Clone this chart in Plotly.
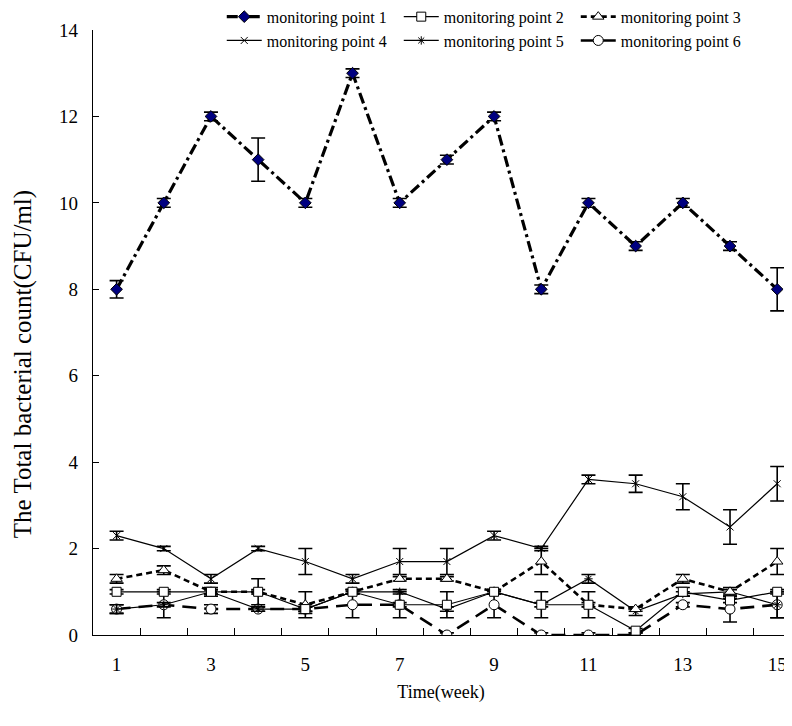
import plotly.graph_objects as go

weeks = list(range(1, 16))
names = ["monitoring point 1", "monitoring point 2", "monitoring point 3",
         "monitoring point 4", "monitoring point 5", "monitoring point 6"]

p1 = [8, 10, 12, 11, 10, 13, 10, 11, 12, 8, 10, 9, 10, 9, 8]
p1_err = [0.2, 0.1, 0.1, 0.5, 0.1, 0.1, 0.1, 0.1, 0.1, 0.1, 0.1, 0.1, 0.1, 0.1, 0.5]

p2 = [1.0, 1.0, 1.0, 1.0, 0.6, 1.0, 0.7, 0.7, 1.0, 0.7, 0.7, 0.1, 1.0, 0.8, 1.0]
p2_err = [0.05, 0.05, 0.05, 0.05, 0.05, 0.05, 0.05, 0.3, 0.05, 0.05, 0.05, 0.05, 0.1, 0.05, 0.05]

p3 = [1.3, 1.5, 1.0, 1.0, 0.7, 1.0, 1.3, 1.3, 1.0, 1.7, 0.7, 0.6, 1.3, 1.0, 1.7]
p3_err = [0.1, 0.1, 0.05, 0.3, 0.3, 0.05, 0.05, 0.05, 0.05, 0.3, 0.3, 0.05, 0.1, 0.05, 0.3]

p4 = [2.3, 2.0, 1.3, 2.0, 1.7, 1.3, 1.7, 1.7, 2.3, 2.0, 3.6, 3.5, 3.2, 2.5, 3.5]
p4_err = [0.1, 0.05, 0.1, 0.05, 0.3, 0.1, 0.3, 0.3, 0.1, 0.05, 0.1, 0.2, 0.3, 0.4, 0.4]

p5 = [0.6, 0.7, 1.0, 0.6, 0.6, 1.0, 1.0, 0.6, 1.0, 0.7, 1.3, 0.55, 0.95, 1.0, 0.7]
p5_err = [0.1, 0.05, 0.1, 0.05, 0.05, 0.05, 0.05, 0.05, 0.05, 0.3, 0.1, 0.1, 0.05, 0.1, 0.3]

p6 = [0.6, 0.7, 0.6, 0.6, 0.6, 0.7, 0.7, 0.0, 0.7, 0.0, 0.0, 0.0, 0.7, 0.6, 0.7]
p6_err = [0.1, 0.3, 0.1, 0.05, 0.1, 0.3, 0.3, 0.05, 0.3, 0.05, 0.05, 0.05, 0.05, 0.3, 0.3]

x_tick_labels = ["1", "3", "5", "7", "9", "11", "13", "15"]
x_tick_vals = [1, 3, 5, 7, 9, 11, 13, 15]
y_title = "The Total bacterial count(CFU/ml)"
x_title = "Time(week)"

series = [
    (p1, p1_err, dict(color="black", width=3.2, dash="11px,4px,3px,4px"),
     dict(symbol="diamond", size=9, color="#000080", line=dict(color="black", width=1))),
    (p2, p2_err, dict(color="black", width=1.2),
     dict(symbol="square", size=9, color="white", line=dict(color="black", width=1))),
    (p3, p3_err, dict(color="black", width=2.6, dash="6px,4px"),
     dict(symbol="triangle-up", size=10, color="white", line=dict(color="black", width=1))),
    (p4, p4_err, dict(color="black", width=1.2),
     dict(symbol="x-thin", size=7, color="black", line=dict(color="black", width=1))),
    (p5, p5_err, dict(color="black", width=1.2),
     dict(symbol="asterisk", size=7, color="black", line=dict(color="black", width=1))),
    (p6, p6_err, dict(color="black", width=2.6, dash="14px,8px"),
     dict(symbol="circle", size=10, color="white", line=dict(color="black", width=1))),
]

fig = go.Figure()
order = [5, 4, 3, 2, 1, 0]
for i in order:
    vals, errs, line, marker = series[i]
    fig.add_trace(go.Scatter(
        x=weeks, y=vals, name=names[i], mode="lines+markers",
        line=line, marker=marker, legendrank=i + 1,
        error_y=dict(type="data", array=errs, visible=True, color="black",
                     thickness=1.6, width=7),
    ))

serif = "Liberation Serif"
# page body has an 8px margin, so the figure is 8px smaller and margins shifted
fig.update_layout(
    width=784, height=718,
    margin=dict(l=85, r=3, t=22, b=91, autoexpand=False),
    paper_bgcolor="white", plot_bgcolor="white",
    font=dict(family=serif, size=16, color="black"),
    showlegend=True,
    legend=dict(orientation="h", x=0.185, y=1.05, xanchor="left", yanchor="top",
                entrywidth=127, entrywidthmode="pixels", itemwidth=35,
                font=dict(family=serif, size=16), bgcolor="rgba(0,0,0,0)",
                traceorder="normal", tracegroupgap=0),
    xaxis=dict(range=[0.5, 15.25], tickvals=x_tick_vals, ticktext=x_tick_labels,
               ticks="", showline=True, linecolor="black", linewidth=1.3,
               showgrid=False, zeroline=False, ticklabelstandoff=12,
               tickfont=dict(family=serif, size=19),
               minor=dict(tickmode="array", tickvals=[k + 0.5 for k in range(1, 15)],
                          ticks="inside", ticklen=7, tickcolor="black", tickwidth=1,
                          showgrid=False),
               title=dict(text=x_title, font=dict(family=serif, size=18), standoff=11)),
    yaxis=dict(range=[0, 14], tickvals=[0, 2, 4, 6, 8, 10, 12, 14],
               ticks="inside", ticklen=6, tickcolor="black", tickwidth=1,
               showline=True, linecolor="black", linewidth=1.3,
               showgrid=False, zeroline=False, ticklabelstandoff=10,
               tickfont=dict(family=serif, size=19)),
    annotations=[dict(text=y_title, textangle=-90, xref="paper", yref="paper",
                      x=-0.101, y=0.447, xanchor="center", yanchor="middle",
                      showarrow=False, font=dict(family=serif, size=25))],
)

fig.write_html("out.html")
